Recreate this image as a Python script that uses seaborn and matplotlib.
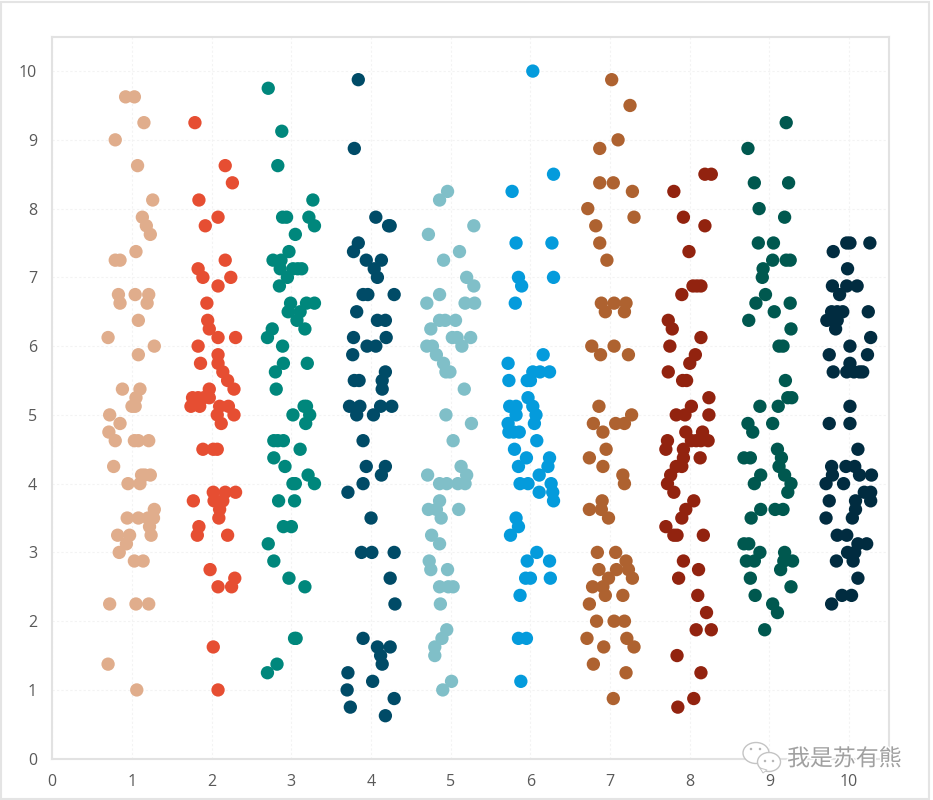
import pandas as pd
import seaborn as sns
import matplotlib.pyplot as plt
from matplotlib.patches import Ellipse, Rectangle, Polygon
import matplotlib.patheffects as pe

# Values
x1 = [.92,1.03,1.15,.79,1.07,1.26,1.13,1.18,1.23,1.05,.79,.85,.83,1.04,1.21,.85,1.19,1.08,.70,1.28,1.08,.88,1.10,1.05,1.0,1.04,.72,.85,.71,.79,1.03,1.08,1.21,.77,1.12,1.16,1.23,.95,1.10,1.28,1.20,1.27,.94,1.08,1.22,.82,.97,1.24,.93,.84,1.03,1.14,.72,1.05,1.21,.70,1.06]
y1 = [9.625,9.625,9.25,9,8.625,8.125,7.875,7.75,7.625,7.375,7.25,7.25,6.75,6.75,6.75,6.625,6.625,6.375,6.125,6,5.875,5.375,5.375,5.25,5.125,5.125,5,4.875,4.75,4.625,4.625,4.625,4.625,4.25,4.125,4.125,4.125,4,4,3.625,3.5,3.5,3.5,3.5,3.375,3.25,3.25,3.25,3.125,3,2.875,2.875,2.25,2.25,2.25,1.375,1]

x2 = [1.79,2.17,2.26,1.84,2.08,1.92,2.17,1.83,1.89,2.24,2.08,1.94,1.95,1.97,2.08,2.30,1.83,2.08,1.86,2.08,2.14,2.20,2.28,1.97,1.76,1.83,1.90,1.97,1.74,1.85,2.10,2.21,2.07,2.28,2.12,1.89,2.02,2.07,2.02,2.17,2.30,1.77,2.03,2.14,2.10,2.09,1.84,1.82,2.20,1.98,2.29,2.08,2.25,2.02,2.08]
y2 = [9.25,8.625,8.375,8.125,7.875,7.75,7.25,7.125,7,7,6.875,6.625,6.375,6.25,6.125,6.125,6,5.875,5.75,5.75,5.625,5.5,5.375,5.375,5.25,5.25,5.25,5.25,5.125,5.125,5.125,5.125,5,5,4.875,4.5,4.5,4.5,3.875,3.875,3.875,3.75,3.75,3.75,3.625,3.5,3.375,3.25,3.25,2.75,2.625,2.5,2.5,1.625,1]

x3 = [2.71,2.88,2.83,3.27,2.89,2.94,3.22,3.29,3.05,2.97,2.77,2.87,2.86,3.02,3.08,3.13,2.95,2.85,2.99,3.19,3.29,3.11,2.96,3.07,2.76,3.17,2.70,2.89,2.90,3.20,2.80,2.81,3.16,3.19,3.02,3.23,3.18,2.78,2.83,2.90,3.11,2.78,2.92,3.21,3.02,3.05,3.29,2.84,3.04,2.90,3.0,2.71,2.78,2.97,3.17,3.04,3.06,2.82,2.70]
y3 = [9.75,9.125,8.625,8.125,7.875,7.875,7.875,7.75,7.625,7.375,7.25,7.25,7.125,7.125,7.125,7.125,7,6.875,6.625,6.625,6.625,6.5,6.5,6.375,6.25,6.25,6.125,6,5.75,5.75,5.625,5.375,5.125,5.125,5,5,4.875,4.625,4.625,4.625,4.5,4.375,4.25,4.125,4,4,4,3.75,3.75,3.375,3.375,3.125,2.875,2.625,2.5,1.75,1.75,1.375,1.25]

x4 = [3.84,3.79,4.06,4.22,4.24,3.84,3.78,3.94,4.13,4.04,4.08,3.90,3.96,4.29,3.82,4.08,4.18,3.78,4.19,3.95,4.06,3.77,4.18,3.79,3.85,4.14,4.14,3.73,3.86,4.12,4.26,3.82,4.03,3.90,3.94,4.18,4.13,3.90,3.71,4.0,3.88,4.01,4.29,4.24,4.30,3.90,4.08,4.24,4.12,4.14,3.71,4.02,3.70,4.29,3.74,4.18]
y4 = [9.875,8.875,7.875,7.75,7.75,7.5,7.375,7.25,7.25,7.125,7,6.75,6.75,6.75,6.5,6.375,6.375,6.125,6.125,6,6,5.875,5.625,5.5,5.5,5.5,5.375,5.125,5.125,5.125,5.125,5,5,4.625,4.25,4.25,4.125,4,3.875,3.5,3,3,3,2.625,2.25,1.75,1.625,1.625,1.5,1.375,1.25,1.125,1,.875,.75,.625]

x5 = [4.96,4.86,5.29,4.72,5.11,4.91,5.20,5.29,4.86,4.70,5.18,5.30,4.86,4.93,5.06,4.75,5.02,5.08,5.25,4.70,4.77,5.14,4.82,4.91,4.94,4.99,5.17,4.94,5.26,5.03,5.13,4.71,5.20,4.86,4.95,5.09,5.18,4.86,4.72,4.82,5.10,4.88,4.76,4.86,4.73,4.75,4.96,4.86,4.97,5.03,4.87,4.95,4.89,4.80,4.80,5.01,4.90]
y5 = [8.25,8.125,7.75,7.625,7.375,7.25,7,6.875,6.75,6.625,6.625,6.625,6.375,6.375,6.375,6.25,6.125,6.125,6.125,6,6,6,5.875,5.75,5.625,5.625,5.375,5,4.875,4.625,4.25,4.125,4.125,4,4,4,4,3.75,3.625,3.625,3.625,3.5,3.25,3.125,2.875,2.75,2.75,2.5,2.5,2.5,2.25,1.875,1.75,1.625,1.5,1.125,1]

x6 = [6.03,6.29,5.77,5.82,6.27,5.85,6.29,5.89,5.81,6.16,5.72,6.03,6.12,6.24,5.73,5.96,6.0,5.97,5.74,5.82,6.03,5.82,6.07,5.72,6.05,5.73,5.79,5.86,6.08,5.80,5.95,6.24,5.85,6.22,6.11,5.87,5.97,6.26,6.11,6.28,6.29,5.82,5.85,5.75,6.08,5.96,6.24,5.94,6.0,6.25,5.87,5.85,5.95,5.88]
y6 = [10,8.5,8.25,7.5,7.5,7,7,6.875,6.625,5.875,5.75,5.625,5.625,5.625,5.5,5.5,5.5,5.25,5.125,5.125,5.125,5,5,4.875,4.875,4.75,4.75,4.75,4.625,4.5,4.375,4.375,4.25,4.25,4.125,4,4,4,3.875,3.875,3.75,3.5,3.375,3.25,3,2.875,2.875,2.625,2.625,2.625,2.375,1.75,1.75,1.125]

x7 = [7.02,7.25,7.10,6.87,6.87,7.04,7.28,6.72,7.30,6.82,6.87,6.96,6.89,7.05,7.20,6.94,7.18,6.77,7.05,6.88,7.23,6.86,7.27,6.79,7.07,7.18,6.91,6.95,6.74,6.91,7.16,7.18,6.90,6.74,6.89,6.98,6.84,7.07,7.20,6.86,7.08,7.23,6.98,7.28,6.78,6.91,6.94,7.16,6.74,6.83,7.05,7.18,6.71,7.21,6.92,7.30,6.79,7.20,7.04]
y7 = [9.875,9.5,9,8.875,8.375,8.375,8.25,8,7.875,7.75,7.5,7.25,6.625,6.625,6.625,6.5,6.5,6,6,5.875,5.875,5.125,5,4.875,4.875,4.875,4.75,4.5,4.375,4.25,4.125,4,3.75,3.625,3.625,3.5,3,3,2.875,2.75,2.75,2.75,2.625,2.625,2.5,2.5,2.375,2.375,2.25,2,2,2,1.75,1.75,1.625,1.625,1.375,1.25,.875]

x8 = [8.19,8.27,7.80,7.92,8.19,7.99,8.04,8.09,8.14,7.90,7.73,7.78,8.14,7.75,8.07,8.0,7.73,7.91,7.96,8.24,8.02,8.24,7.83,7.94,7.95,8.16,7.72,8.02,8.08,8.14,8.23,7.70,7.92,7.92,8.13,7.83,7.90,7.76,7.72,7.80,8.05,7.95,7.90,7.70,7.80,7.84,8.17,7.92,8.11,7.86,8.10,8.21,8.08,8.27,7.84,8.14,8.05,7.85]
y8 = [8.5,8.5,8.25,7.875,7.75,7.375,6.875,6.875,6.875,6.75,6.375,6.25,6.125,6,5.875,5.75,5.625,5.5,5.5,5.25,5.125,5,5,5,4.75,4.75,4.625,4.625,4.625,4.625,4.625,4.5,4.5,4.375,4.375,4.25,4.25,4.125,4,3.875,3.75,3.625,3.5,3.375,3.25,3.25,3.25,2.875,2.75,2.625,2.375,2.125,1.875,1.875,1.5,1.25,.875,.75]

x9 = [9.21,8.73,8.81,9.24,8.87,9.19,8.86,9.05,9.04,9.21,9.26,8.92,8.91,8.95,8.83,9.26,9.06,8.74,9.27,9.12,9.17,9.20,9.23,9.28,8.88,9.11,8.73,9.04,8.79,9.10,8.68,8.76,9.15,9.12,8.89,9.19,8.81,9.27,9.23,8.89,9.07,9.17,8.77,8.68,8.74,8.88,9.19,8.71,8.81,9.18,9.29,9.14,8.76,9.27,8.82,9.04,9.10,8.94]
y9 = [9.25,8.875,8.375,8.375,8,7.875,7.5,7.5,7.25,7.25,7.25,7.125,7,6.75,6.625,6.625,6.5,6.375,6.25,6,6,5.5,5.25,5.25,5.125,5.125,4.875,4.875,4.75,4.5,4.375,4.375,4.375,4.25,4.125,4.125,4,4,3.875,3.625,3.625,3.625,3.5,3.125,3.125,3,3,2.875,2.875,2.875,2.875,2.75,2.625,2.5,2.375,2.25,2.125,1.875]

x10 = [9.97,10.01,10.26,9.80,9.98,9.79,9.97,10.10,9.88,9.78,9.92,9.85,10.24,9.72,9.85,9.83,10.27,10.01,9.75,10.23,10.01,9.80,9.97,10.06,10.13,10.17,10.01,9.75,10.01,10.11,9.78,9.96,10.07,9.79,10.13,10.28,9.71,9.93,10.19,10.27,9.75,10.08,10.27,10.08,9.71,10.04,9.85,9.97,10.11,10.22,9.98,10.07,9.84,10.05,10.11,9.91,10.03,9.78]
y10 = [7.5,7.5,7.5,7.375,7.125,6.875,6.875,6.875,6.75,6.5,6.5,6.5,6.5,6.375,6.375,6.25,6.125,6,5.875,5.875,5.75,5.625,5.625,5.625,5.625,5.625,5.125,4.875,4.875,4.5,4.25,4.25,4.25,4.125,4.125,4.125,4,4,3.875,3.875,3.75,3.75,3.75,3.625,3.5,3.5,3.25,3.25,3.125,3.125,3,3,2.875,2.875,2.625,2.375,2.375,2.25]

colors = ["#E0AD8C", "#E64E32", "#00877C", "#004B67", "#80BFC8",
          "#049BDC", "#AE6230", "#92230F", "#00584F", "#012C40"]

# long table for seaborn
xs = [x1, x2, x3, x4, x5, x6, x7, x8, x9, x10]
ys = [y1, y2, y3, y4, y5, y6, y7, y8, y9, y10]
frames = []
for i in range(10):
    frames.append(pd.DataFrame({"x": xs[i], "y": ys[i], "grupo": i + 1}))
df = pd.concat(frames)

sns.set_theme(style="white")
plt.rcParams['font.family'] = ['Open Sans', 'DejaVu Sans']

fig = plt.figure(figsize=(9.33, 8), dpi=100)
ax = fig.add_axes([52.3/933, 1 - 758.7/800, (889 - 52.3)/933, (758.7 - 36.7)/800])

sns.scatterplot(data=df, x="x", y="y", hue="grupo", palette=colors, s=92,
                linewidth=0, legend=False, ax=ax, zorder=3)

ax.set_xlim(0, 10.5)
ax.set_ylim(0, 10.5)
ax.set_xticks(range(0, 11))
ax.set_yticks(range(0, 11))
ax.set_xlabel("")
ax.set_ylabel("")
ax.grid(True, color="#F3F3F3", linestyle=(0, (2, 2)), linewidth=0.8)
ax.set_axisbelow(True)
ax.tick_params(length=0, labelsize=11.5, labelcolor="#595959", pad=11)
for s in ax.spines.values():
    s.set_color("#E2E2E2")
    s.set_linewidth(1.5)

# outer frame of the screenshot
fig.add_artist(Rectangle((1/933, 1/800), 928/933, 797/800, transform=fig.transFigure,
                         fill=False, edgecolor="#E4E4E4", linewidth=1.5))

# watermark (icon + name)
def px(x, y):
    return (x/933, 1 - y/800)

for cx, cy, w, h in [(756, 753, 26, 21), (769, 762, 23, 19)]:
    fig.add_artist(Ellipse(px(cx, cy), w/933, h/800, transform=fig.transFigure,
                           facecolor="white", edgecolor="#C4C4C4", linewidth=1, zorder=5))
fig.add_artist(Polygon([px(760, 768), px(763, 773), px(767, 770)], closed=True, transform=fig.transFigure,
                       facecolor="white", edgecolor="#C4C4C4", linewidth=0.7, zorder=5))
for cx, cy in [(751, 749), (760, 749), (765, 761), (773, 761)]:
    fig.add_artist(Ellipse(px(cx, cy), 2.5/933, 2.5/800, transform=fig.transFigure,
                           facecolor="#B5B5B5", edgecolor="none", zorder=6))
fig.text(787/933, 1 - 759/800, "我是苏有熊", fontsize=16.5, color="#A0A0A0", va="center", ha="left",
         family=['Noto Sans CJK SC', 'DejaVu Sans'], zorder=6,
         path_effects=[pe.withStroke(linewidth=2, foreground="white")])

fig.savefig("out.png", dpi=100)
